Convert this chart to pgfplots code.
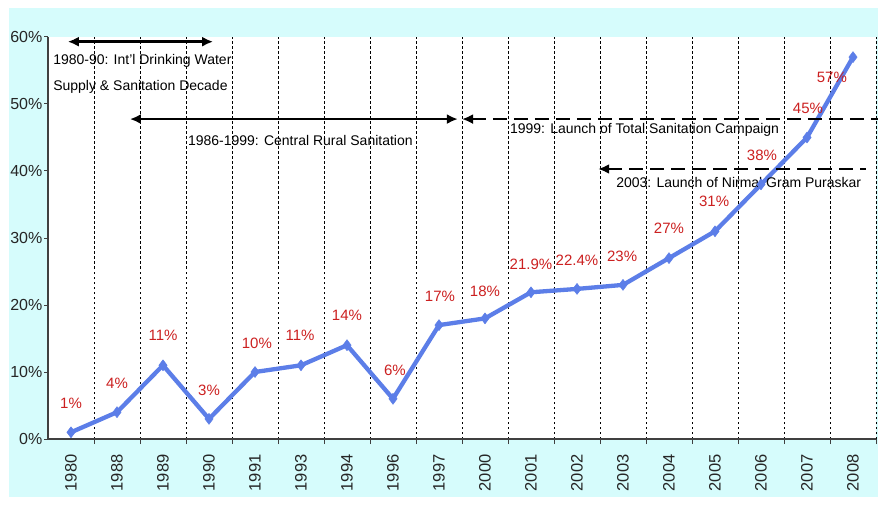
\documentclass[border=0pt]{standalone}
\usepackage{pgfplots}
\pgfplotsset{compat=1.18}
\usetikzlibrary{arrows.meta}
\usepackage{fontspec}
\setmainfont{Liberation Sans}
\definecolor{bgcyan}{RGB}{214,252,252}
\definecolor{lineblue}{RGB}{92,126,232}
\definecolor{labred}{RGB}{204,32,32}
\begin{document}
\begin{tikzpicture}[x=1pt,y=1pt]
\useasboundingbox (0,0) rectangle (878,504);
\fill[white] (0,0) rectangle (878,504);
\fill[bgcyan] (9,7) rectangle (878,496);
\begin{axis}[
  at={(48pt,65pt)}, anchor=south west,
  scale only axis, width=828pt, height=402pt,
  xmin=-0.5, xmax=17.5, ymin=0, ymax=60,
  axis x line=bottom, axis y line=left,
  axis line style={-, black!75, line width=1.3pt},
  axis background/.style={fill=white},
  xtick={0,...,17},
  xticklabels={1980,1988,1989,1990,1991,1993,1994,1996,1997,2000,2001,2002,2003,2004,2005,2006,2007,2008},
  major x tick style={draw=none},
  minor xtick={0.5,1.5,...,17.5},
  xminorgrids,
  minor x grid style={black, line width=1pt, dash pattern=on 2.5pt off 2.5pt},
  minor tick length=5pt,
  major tick length=4pt,
  tick align=outside,
  tick style={black!75, line width=1pt},
  ytick={0,10,...,60},
  yticklabel={\pgfmathprintnumber[assume math mode=true]{\tick}\%},
  yticklabel style={font=\fontsize{16}{19}\selectfont, text=black!85, inner sep=1.5pt},
  xticklabel style={font=\fontsize{16.5}{19}\selectfont, text=black!85, rotate=90, anchor=east},
  xticklabel shift=8pt,
  clip=false,
]
\addplot[lineblue, line width=4.3pt, line join=round,
  mark=diamond*, mark size=5.5pt, mark options={fill=lineblue, draw=lineblue, line width=0.5pt}]
  coordinates {(0,1) (1,4) (2,11) (3,3) (4,10) (5,11) (6,14) (7,6) (8,17) (9,18)
  (10,21.9) (11,22.4) (12,23) (13,27) (14,31) (15,38) (16,45) (17,57)};
% annotations
\draw[{Latex[length=11pt,width=10pt]}-{Latex[length=11pt,width=10pt]}, line width=2.8pt]
  (axis cs:-0.07,59.3) -- (axis cs:3.09,59.3);
\draw[{Latex[length=11pt,width=10pt]}-{Latex[length=11pt,width=10pt]}, line width=2.8pt]
  (axis cs:1.28,47.75) -- (axis cs:8.41,47.75);
\draw[{Latex[length=11pt,width=10pt]}-, line width=2.8pt, dash pattern=on 14pt off 7pt]
  (axis cs:8.5,47.75) -- (axis cs:17.55,47.75);
\draw[{Latex[length=11pt,width=10pt]}-, line width=2.8pt, dash pattern=on 14pt off 7pt]
  (axis cs:11.46,40.3) -- (axis cs:17.28,40.3);
\begin{scope}[every node/.style={font=\fontsize{14}{16}\selectfont, inner sep=0pt, text=black}]
\node[anchor=west] at (axis cs:-0.39,56.4) {1980-90: Int'l Drinking Water};
\node[anchor=west] at (axis cs:-0.39,52.5) {Supply \& Sanitation Decade};
\node[anchor=west] at (axis cs:2.54,44.6) {1986-1999: Central Rural Sanitation};
\node[anchor=west] at (axis cs:9.54,46.1) {1999: Launch of Total Sanitation Campaign};
\node[anchor=west] at (axis cs:11.85,38.3) {2003: Launch of Nirmal Gram Puraskar};
\end{scope}
\begin{scope}[every node/.style={font=\fontsize{15}{17}\selectfont, inner sep=0pt, text=labred}]
\node at (axis cs:0,5.37) {1\%};
\node at (axis cs:1,8.36) {4\%};
\node at (axis cs:2,15.5) {11\%};
\node at (axis cs:3,7.3) {3\%};
\node at (axis cs:4.04,14.3) {10\%};
\node at (axis cs:4.98,15.4) {11\%};
\node at (axis cs:6,18.4) {14\%};
\node at (axis cs:7.04,10.3) {6\%};
\node at (axis cs:8.02,21.3) {17\%};
\node at (axis cs:9,22.1) {18\%};
\node at (axis cs:10,26.1) {21.9\%};
\node at (axis cs:11,26.6) {22.4\%};
\node at (axis cs:11.98,27.3) {23\%};
\node at (axis cs:13,31.5) {27\%};
\node at (axis cs:13.98,35.4) {31\%};
\node at (axis cs:15.02,42.4) {38\%};
\node at (axis cs:16.02,49.4) {45\%};
\node at (axis cs:16.54,53.9) {57\%};
\end{scope}
\end{axis}
\end{tikzpicture}
\end{document}
